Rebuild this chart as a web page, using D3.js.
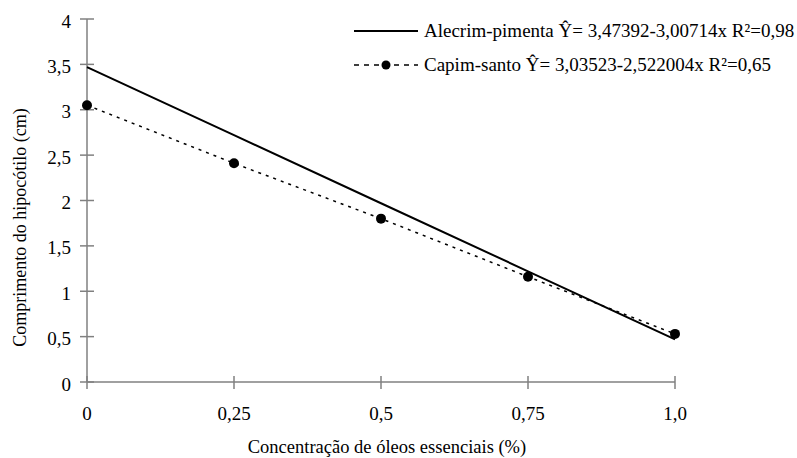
<!DOCTYPE html>
<html>
<head>
<meta charset="utf-8">
<script src="https://cdn.jsdelivr.net/npm/d3@7"></script>
<style>
  body { margin: 0; }
</style>
</head>
<body>
<script>
// chart data
const concentrations = [0, 0.25, 0.5, 0.75, 1.0];
const alecrimValues = [3.47, 2.72, 1.97, 1.22, 0.47];
const capimValues = [3.05, 2.41, 1.80, 1.16, 0.53];
const xTicks = [0, 0.25, 0.5, 0.75, 1.0];
const xTickLabels = ["0", "0,25", "0,5", "0,75", "1,0"];
const yTicks = [0, 0.5, 1, 1.5, 2, 2.5, 3, 3.5, 4];
const yTickLabels = ["0", "0,5", "1", "1,5", "2", "2,5", "3", "3,5", "4"];
const legendLabels = [
	"Alecrim-pimenta Ŷ= 3,47392-3,00714x R²=0,98",
	"Capim-santo Ŷ= 3,03523-2,522004x R²=0,65"
];

// set up width and height
const canvasWidth = 797;
const canvasHeight = 458;
const margin = { top: 19, left: 87 };
const plotWidth = 588;
const plotHeight = 363;
const serif = "'Liberation Serif'";

const root = d3.select("body")
	.append("svg")
		.attr("width", canvasWidth)
		.attr("height", canvasHeight)
		.attr("font-family", serif);

const svg = root.append("g")
	.attr("transform", `translate(${margin.left}, ${margin.top})`);

// text helper: serif face on the text and on an inner tspan
const label = (sel, size, txt) => {
	sel.attr("font-family", serif)
		.attr("font-size", size)
		.attr("fill", "#000");
	sel.append("tspan")
		.attr("font-family", serif)
		.style("font-family", serif)
		.text(txt);
};

// scales
const xScale = d3.scaleLinear()
	.domain([0, 1])
	.range([0, plotWidth]);

const yScale = d3.scaleLinear()
	.domain([0, 4])
	.range([plotHeight, 0]);

const axisColor = "#808080";

// Y axis
const yAxis = svg.append("g");
yAxis.append("line")
	.attr("x1", 0).attr("x2", 0)
	.attr("y1", yScale(4)).attr("y2", yScale(0))
	.attr("stroke", axisColor).attr("stroke-width", 1.5);
yAxis.selectAll(".ytick")
	.data(yTicks)
	.enter().append("line")
		.attr("class", "ytick")
		.attr("x1", -7).attr("x2", 7)
		.attr("y1", (d) => yScale(d)).attr("y2", (d) => yScale(d))
		.attr("stroke", axisColor).attr("stroke-width", 1.5);
yAxis.selectAll(".ylabel")
	.data(yTicks)
	.enter().append("text")
		.attr("class", "ylabel")
		.attr("x", -16)
		.attr("y", (d) => yScale(d))
		.attr("dy", "0.45em")
		.attr("text-anchor", "end")
		.each(function(d, i) { label(d3.select(this), "19px", yTickLabels[i]); });

// X axis
const xAxis = svg.append("g");
xAxis.append("line")
	.attr("x1", xScale(0)).attr("x2", xScale(1))
	.attr("y1", plotHeight).attr("y2", plotHeight)
	.attr("stroke", axisColor).attr("stroke-width", 1.5);
xAxis.selectAll(".xtick")
	.data(xTicks)
	.enter().append("line")
		.attr("class", "xtick")
		.attr("x1", (d) => xScale(d)).attr("x2", (d) => xScale(d))
		.attr("y1", plotHeight - 6).attr("y2", plotHeight + 7)
		.attr("stroke", axisColor).attr("stroke-width", 1.5);
xAxis.selectAll(".xlabel")
	.data(xTicks)
	.enter().append("text")
		.attr("class", "xlabel")
		.attr("x", (d) => xScale(d))
		.attr("y", plotHeight + 38)
		.attr("text-anchor", "middle")
		.each(function(d, i) { label(d3.select(this), "19px", xTickLabels[i]); });

// axis titles
svg.append("text")
	.attr("x", plotWidth / 2 + 6)
	.attr("y", plotHeight + 71)
	.attr("text-anchor", "middle")
	.call(label, "18.5px", "Concentração de óleos essenciais (%)");

svg.append("text")
	.attr("transform", `translate(-61, ${yScale(2) + 27}) rotate(-90)`)
	.attr("text-anchor", "middle")
	.call(label, "18px", "Comprimento do hipocótilo (cm)");

// lines
const line = d3.line()
	.x((d, i) => xScale(concentrations[i]))
	.y((d) => yScale(d));

svg.append("path")
	.datum(alecrimValues)
	.attr("fill", "none")
	.attr("stroke", "#000")
	.attr("stroke-width", 2)
	.attr("d", line);

svg.append("path")
	.datum(capimValues)
	.attr("fill", "none")
	.attr("stroke", "#000")
	.attr("stroke-width", 1.5)
	.attr("stroke-dasharray", "3,5")
	.attr("d", line);

svg.selectAll("circle.capim")
	.data(capimValues)
	.enter().append("circle")
		.attr("class", "capim")
		.attr("cx", (d, i) => xScale(concentrations[i]))
		.attr("cy", (d) => yScale(d))
		.attr("r", 5)
		.attr("fill", "#000");

// legend
const legend = root.append("g")
	.attr("transform", "translate(354, 31)");

legend.append("line")
	.attr("x1", 0).attr("x2", 64)
	.attr("y1", 0).attr("y2", 0)
	.attr("stroke", "#000").attr("stroke-width", 2);
legend.append("line")
	.attr("x1", 0).attr("x2", 64)
	.attr("y1", 34).attr("y2", 34)
	.attr("stroke", "#000").attr("stroke-width", 1.5)
	.attr("stroke-dasharray", "5,5");
legend.append("circle")
	.attr("cx", 32).attr("cy", 34).attr("r", 4.5)
	.attr("fill", "#000");

legend.selectAll(".legend-label")
	.data(legendLabels)
	.enter().append("text")
		.attr("class", "legend-label")
		.attr("x", 70)
		.attr("y", (d, i) => i * 34 + 6)
		.each(function(d) { label(d3.select(this), "19px", d); });
</script>
</body>
</html>
